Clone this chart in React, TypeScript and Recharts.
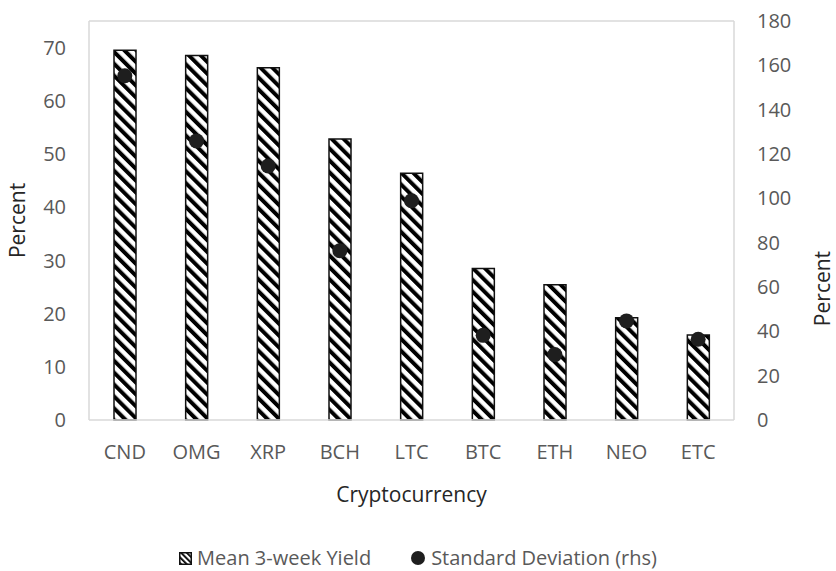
import React from 'react';
import { ComposedChart, Bar, Scatter, XAxis, YAxis, ReferenceLine } from 'recharts';

const categories = ['CND', 'OMG', 'XRP', 'BCH', 'LTC', 'BTC', 'ETH', 'NEO', 'ETC'];
const meanYield = [69.5, 68.5, 66.2, 52.8, 46.4, 28.5, 25.4, 19.2, 16.0];
const stdDev = [155.3, 125.9, 114.6, 76.4, 98.9, 38.2, 29.5, 44.7, 36.4];
const leftTicks = [0, 10, 20, 30, 40, 50, 60, 70];
const rightTicks = [0, 20, 40, 60, 80, 100, 120, 140, 160, 180];

const data = categories.map((name, i) => ({ name, mean: meanYield[i], sd: stdDev[i] }));

const FONT = '"Open Sans", sans-serif';
const TICK = { fill: '#595959', fontSize: 20, fontFamily: FONT };
const TITLE = { fill: '#262626', fontSize: 21, fontFamily: FONT, textAnchor: 'middle' as const };

const Dot = (props: any) => {
  const { cx, cy } = props;
  if (cx == null || cy == null) return null;
  return <circle cx={cx} cy={cy} r={7.5} fill="#1e1e1e" />;
};

export default function App() {
  return (
    <div style={{ position: 'absolute', left: 0, top: 0, width: 836, height: 571, background: '#fff' }}>
      <ComposedChart width={836} height={571} data={data} margin={{ top: 21, right: 0, bottom: 51, left: 0 }}>
        <defs>
          <pattern id="diag" patternUnits="userSpaceOnUse" width="8.4" height="8.4" patternTransform="rotate(-45)">
            <rect x="0" y="0" width="8.4" height="8.4" fill="#fff" />
            <rect x="0" y="0" width="4" height="8.4" fill="#000" />
          </pattern>
        </defs>
        <XAxis
          dataKey="name"
          interval={0}
          tickLine={false}
          tickSize={0}
          tickMargin={25}
          height={100}
          axisLine={{ stroke: '#d9d9d9', strokeWidth: 1.5 }}
          tick={TICK}
          label={{ value: 'Cryptocurrency', position: 'insideBottom', offset: 18, style: TITLE }}
        />
        <YAxis
          yAxisId="left"
          width={89}
          domain={[0, 75]}
          ticks={leftTicks}
          tickLine={false}
          tickSize={0}
          tickMargin={23}
          axisLine={{ stroke: '#d9d9d9', strokeWidth: 1.5 }}
          tick={TICK}
          label={{ value: 'Percent', angle: -90, position: 'insideLeft', offset: 17.5, style: TITLE }}
        />
        <YAxis
          yAxisId="right"
          orientation="right"
          width={102}
          domain={[0, 180]}
          ticks={rightTicks}
          tickLine={false}
          tickSize={0}
          tickMargin={23}
          axisLine={{ stroke: '#d9d9d9', strokeWidth: 1.5 }}
          tick={TICK}
          label={{ value: 'Percent', angle: -90, position: 'insideRight', offset: 13, dy: 68, style: TITLE }}
        />
        <ReferenceLine y={75} yAxisId="left" stroke="#d9d9d9" strokeWidth={1.5} />
        <Bar
          dataKey="mean"
          yAxisId="left"
          barSize={22}
          fill="url(#diag)"
          stroke="#111"
          strokeWidth={1.5}
          isAnimationActive={false}
        />
        <Scatter dataKey="sd" yAxisId="right" shape={Dot} isAnimationActive={false} />
      </ComposedChart>
      <div
        style={{
          position: 'absolute',
          top: 548,
          left: 0,
          width: 836,
          display: 'flex',
          justifyContent: 'center',
          alignItems: 'center',
          fontFamily: FONT,
          fontSize: 20,
          lineHeight: '20px',
          color: '#595959',
          whiteSpace: 'nowrap',
        }}
      >
        <svg width={13} height={13} style={{ marginRight: 5 }}>
          <defs>
            <pattern id="diagLegend" patternUnits="userSpaceOnUse" width="4" height="4" patternTransform="rotate(-45)">
              <rect x="0" y="0" width="4" height="4" fill="#fff" />
              <rect x="0" y="0" width="1.8" height="4" fill="#000" />
            </pattern>
          </defs>
          <rect x={0.75} y={0.75} width={11.5} height={11.5} fill="url(#diagLegend)" stroke="#111" strokeWidth={1.5} />
        </svg>
        <span>Mean 3-week Yield</span>
        <svg width={14} height={14} style={{ marginLeft: 40, marginRight: 6 }}>
          <circle cx={7} cy={7} r={7} fill="#1e1e1e" />
        </svg>
        <span>Standard Deviation (rhs)</span>
      </div>
    </div>
  );
}
